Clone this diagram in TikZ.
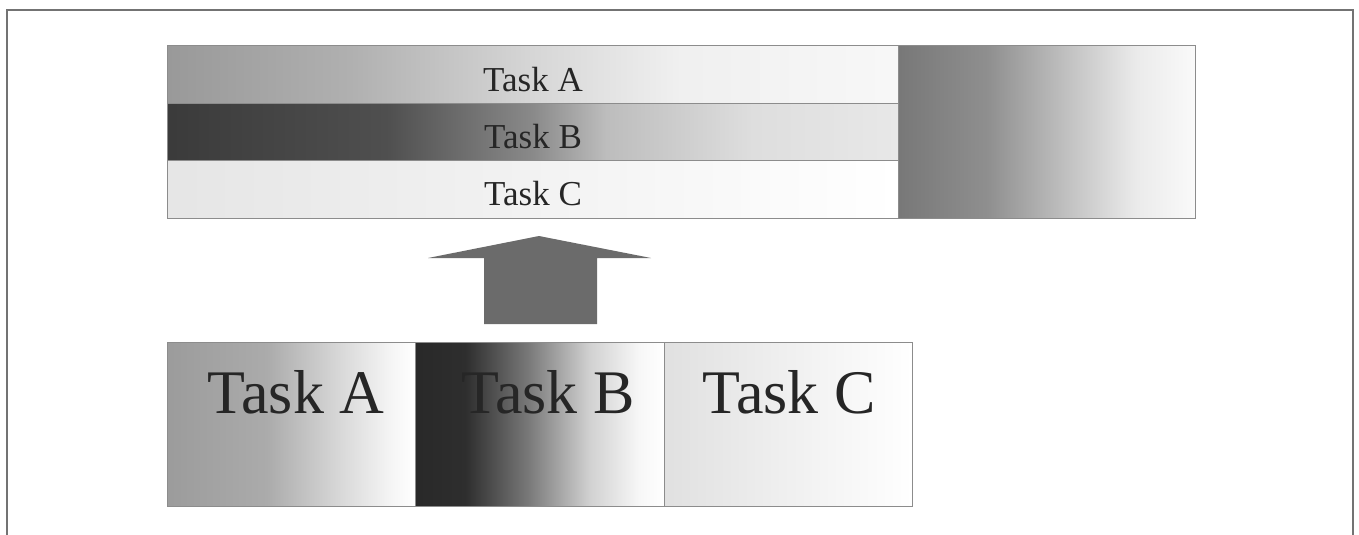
\documentclass[tikz,border=0pt]{standalone}
\usepackage{fontspec}
\setmainfont{Liberation Serif}
\pgfdeclarehorizontalshading{rowA}{100bp}{color(0bp)=(black!40); color(25bp)=(black!40); color(37.5bp)=(black!31); color(50bp)=(black!16); color(60bp)=(black!6); color(75bp)=(black!3); color(100bp)=(black!3)}
\pgfdeclarehorizontalshading{rowB}{100bp}{color(0bp)=(black!77); color(25bp)=(black!77); color(40bp)=(black!69); color(50bp)=(black!46); color(55bp)=(black!26); color(65bp)=(black!13); color(75bp)=(black!9); color(100bp)=(black!9)}
\pgfdeclarehorizontalshading{rowC}{100bp}{color(0bp)=(black!10); color(25bp)=(black!10); color(50bp)=(black!5); color(75bp)=(white); color(100bp)=(white)}
\pgfdeclarehorizontalshading{side}{100bp}{color(0bp)=(black!53); color(25bp)=(black!53); color(40bp)=(black!44); color(55bp)=(black!22); color(65bp)=(black!8); color(75bp)=(black!2); color(100bp)=(black!2)}
\pgfdeclarehorizontalshading{botA}{100bp}{color(0bp)=(black!39); color(25bp)=(black!39); color(45bp)=(black!33); color(60bp)=(black!15); color(70bp)=(black!4); color(75bp)=(white); color(100bp)=(white)}
\pgfdeclarehorizontalshading{botB}{100bp}{color(0bp)=(black!84); color(25bp)=(black!84); color(35bp)=(black!82); color(47.5bp)=(black!53); color(60bp)=(black!18); color(70bp)=(black!3); color(75bp)=(white); color(100bp)=(white)}
\pgfdeclarehorizontalshading{botC}{100bp}{color(0bp)=(black!12); color(25bp)=(black!12); color(50bp)=(black!6); color(75bp)=(white); color(100bp)=(white)}
\definecolor{edge}{gray}{0.55}
\definecolor{frame}{gray}{0.45}
\definecolor{arrowfill}{gray}{0.42}
\tikzset{
  blockbox/.style={draw=edge, line width=1pt, inner sep=0pt, anchor=north west},
  smalltext/.style={anchor=base, inner sep=0pt, font=\fontsize{35}{40}\selectfont, text=black!85},
  bigtext/.style={anchor=base, inner sep=0pt, font=\fontsize{62}{70}\selectfont, text=black!85},
}
\begin{document}
\begin{tikzpicture}[x=1pt,y=-1pt]
\useasboundingbox (0,0) rectangle (1359,535);
% outer frame
\coordinate (fbl) at (7,540);
\coordinate (ftl) at (7,10);
\coordinate (ftr) at (1353,10);
\coordinate (fbr) at (1353,540);
\draw[frame, line width=1.6pt] (fbl) -- (ftl) -- (ftr) -- (fbr);
% top stack
\node[blockbox, shading=side, minimum width=297pt, minimum height=173pt] (side) at (898,45) {};
\node[blockbox, shading=rowA, minimum width=731pt, minimum height=57.7pt] (ra) at (167,45) {};
\node[blockbox, shading=rowB, minimum width=731pt, minimum height=57.7pt] (rb) at (167,102.7) {};
\node[blockbox, shading=rowC, minimum width=731pt, minimum height=57.7pt] (rc) at (167,160.4) {};
\node[smalltext] (ta) at (533,91) {Task A};
\node[smalltext] (tb) at (533,148) {Task B};
\node[smalltext] (tc) at (533,205) {Task C};
% arrow
\coordinate (tip) at (539,236);
\coordinate (hl) at (428,258);
\coordinate (hr) at (651,258);
\coordinate (sl) at (484,258);
\coordinate (sr) at (597,258);
\coordinate (bl) at (484,324);
\coordinate (br) at (597,324);
\fill[arrowfill] (tip) -- (hr) -- (sr) -- (br) -- (bl) -- (sl) -- (hl) -- cycle;
% bottom row
\node[blockbox, shading=botA, minimum width=248pt, minimum height=164pt] (ba) at (167,342) {};
\node[blockbox, shading=botB, minimum width=249pt, minimum height=164pt] (bb) at (415,342) {};
\node[blockbox, shading=botC, minimum width=248pt, minimum height=164pt] (bc) at (664,342) {};
\node[bigtext] (la) at (296,413) {Task A};
\node[bigtext] (lb) at (548,413) {Task B};
\node[bigtext] (lc) at (789,413) {Task C};
\end{tikzpicture}
\end{document}
